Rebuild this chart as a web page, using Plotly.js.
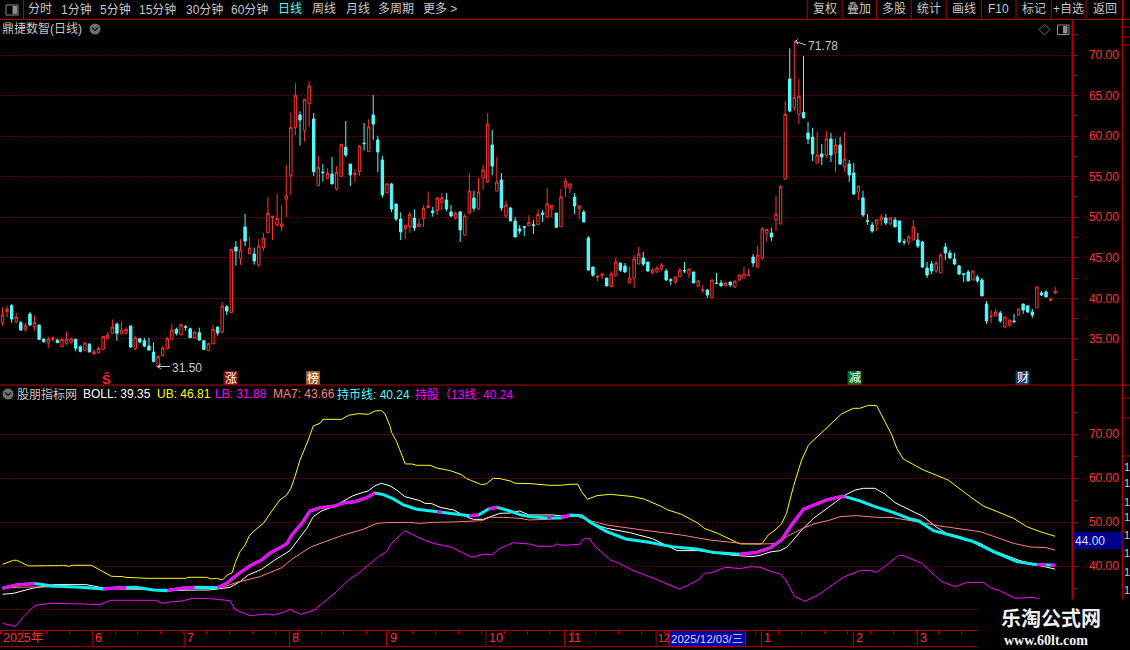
<!DOCTYPE html>
<html><head><meta charset="utf-8">
<script src="https://cdn.plot.ly/plotly-3.0.1.min.js"></script>
<style>html,body{margin:0;padding:0;background:#000;overflow:hidden}#c{width:1130px;height:650px}</style>
</head><body><div id="c"></div>
<script>
const open=[37.03,38.39,39.09,37.07,36.99,36.17,38.06,36.50,36.70,34.94,
34.53,34.94,34.85,34.03,34.44,34.53,34.94,34.03,33.58,34.36,
33.13,33.29,33.70,35.02,35.68,36.83,35.64,35.68,36.58,33.79,
35.02,34.77,34.11,33.38,31.53,32.92,33.75,34.94,36.17,35.51,
36.50,36.25,35.14,35.76,34.77,33.54,34.40,36.46,35.84,38.97,
38.23,46.32,44.89,48.79,45.46,45.46,44.10,46.24,48.09,49.94,
49.08,48.83,52.21,55.12,61.08,62.60,60.67,64.00,62.11,53.89,
55.56,54.75,55.33,53.48,55.00,58.62,56.56,55.25,55.62,59.13,
58.08,62.60,59.52,57.06,53.03,54.10,51.63,49.78,48.59,48.84,
49.90,48.84,49.82,51.18,50.77,50.81,51.79,52.12,50.64,49.90,
50.64,47.81,50.52,52.37,51.01,54.84,54.34,58.90,53.23,54.59,
50.15,51.14,49.53,48.55,48.84,48.96,49.06,49.08,50.52,50.02,
51.01,50.52,48.83,53.72,53.60,52.49,51.01,50.64,47.44,43.86,
42.59,42.83,42.50,41.43,42.87,44.35,43.98,41.89,42.50,44.23,
44.97,44.48,43.12,43.25,43.61,43.37,42.28,42.01,42.67,43.43,
42.99,43.25,41.52,41.00,41.02,40.04,41.87,41.89,41.56,42.01,
41.39,42.26,42.50,42.85,45.09,43.86,44.97,48.05,48.05,49.65,
49.16,54.71,67.04,63.50,62.69,62.93,60.39,59.89,56.69,57.80,
57.67,59.65,57.92,58.91,56.19,56.56,55.46,53.11,52.37,49.56,
49.04,49.17,49.66,49.91,49.17,49.66,49.54,46.97,46.95,47.19,
47.19,46.95,43.74,44.23,43.37,43.13,46.33,45.59,44.85,43.99,
43.02,43.25,42.26,42.63,42.26,39.30,37.76,37.82,38.19,36.47,
36.71,37.19,37.95,39.30,39.06,38.32,38.81,40.66,40.78,39.71,40.66];
const high=[38.88,39.09,39.29,38.23,37.20,36.99,38.31,37.90,36.75,35.10,
35.27,35.27,34.98,35.10,35.92,35.14,35.02,34.20,34.61,34.44,
33.70,34.03,35.35,35.84,37.40,36.99,37.12,36.42,36.62,35.39,
35.14,35.14,35.14,34.57,33.00,34.11,35.22,36.87,36.38,36.87,
36.70,36.38,35.92,36.38,34.85,34.53,36.75,36.50,39.54,39.13,
46.04,47.06,47.31,50.39,47.60,46.24,47.31,48.09,52.50,50.15,
52.90,51.50,56.44,62.93,66.51,63.06,64.60,66.80,62.85,57.55,
56.56,56.03,57.43,56.32,58.99,61.86,56.56,55.95,58.90,61.62,
62.07,65.07,60.06,57.55,54.18,54.22,51.63,50.60,49.00,50.60,
50.97,49.86,51.47,53.19,51.26,52.49,52.99,52.99,51.51,50.73,
50.77,50.48,55.45,53.23,54.84,56.44,62.85,60.75,57.43,55.45,
52.00,51.26,50.03,49.04,48.92,50.27,49.65,50.97,50.89,53.60,
51.46,50.52,53.48,54.83,54.22,52.98,51.50,50.89,47.68,43.86,
42.75,42.99,42.50,43.33,45.05,44.35,44.35,43.86,45.34,46.33,
45.71,44.48,43.70,43.98,44.35,43.61,42.50,42.63,43.74,44.48,
43.61,43.25,42.26,41.64,41.15,42.26,43.12,42.26,42.01,42.01,
42.13,42.99,43.86,43.61,45.46,46.45,48.79,48.50,48.67,52.61,
53.97,64.33,70.83,71.78,67.04,69.88,61.74,61.00,60.51,59.03,
60.63,60.39,59.77,59.89,60.51,57.06,56.69,53.85,53.24,50.40,
49.42,49.78,50.40,50.40,50.03,50.03,49.54,47.32,47.81,49.66,
48.06,47.07,44.48,44.60,44.60,45.59,46.82,45.96,45.59,44.11,
43.02,43.49,43.37,42.88,42.51,39.67,38.56,38.69,38.44,37.70,
37.33,38.07,38.69,39.30,39.18,38.69,41.40,40.91,41.03,40.12,41.40];
const low=[36.62,37.65,36.99,36.99,36.01,35.92,36.62,36.01,34.85,34.53,
33.87,34.65,34.53,33.99,34.24,34.44,33.46,33.33,33.46,33.38,
33.05,33.21,33.66,34.98,35.64,34.77,35.55,35.59,33.87,33.62,
34.44,33.95,33.54,32.14,31.50,32.88,33.70,34.90,35.43,35.47,
36.01,35.06,35.02,34.77,33.62,33.50,34.32,35.39,35.68,37.94,
38.23,44.02,44.10,46.45,45.46,44.15,43.86,45.83,48.05,47.19,
48.83,48.30,49.99,52.74,60.14,58.82,59.32,61.17,55.08,53.85,
54.38,54.71,54.10,53.27,55.00,57.43,53.85,54.38,55.12,58.21,
58.08,59.52,55.58,52.41,52.99,50.64,49.53,47.19,47.31,48.05,
48.30,48.80,48.80,51.14,50.07,50.27,50.85,50.73,50.03,49.70,
46.94,47.69,50.40,50.73,50.97,53.36,54.22,55.17,53.23,50.77,
49.90,49.53,47.56,47.93,47.69,48.92,47.93,49.04,49.41,49.98,
49.98,48.67,48.79,52.49,52.98,50.39,49.65,49.41,43.37,42.63,
42.13,42.38,41.52,41.39,42.63,43.25,43.12,41.89,41.27,44.23,
43.98,43.25,42.99,43.12,43.37,42.13,41.64,41.76,42.63,43.12,
42.50,41.89,41.39,40.65,40.04,40.04,41.76,41.52,41.52,41.39,
41.27,42.13,42.50,42.75,43.86,43.74,44.72,46.94,47.07,48.30,
49.16,54.59,62.93,63.09,61.49,62.19,59.03,56.93,56.65,56.44,
57.30,56.81,55.58,56.44,55.58,54.35,52.74,52.13,50.03,49.04,
48.06,48.30,48.92,49.04,49.04,48.80,46.82,46.58,46.58,47.19,
46.21,43.74,42.51,42.98,43.13,43.13,44.73,44.85,44.11,42.88,
42.01,42.14,42.26,41.89,40.29,36.84,36.96,37.82,36.96,36.34,
36.47,36.96,37.82,38.07,38.19,37.58,38.81,40.29,40.17,39.67,40.54];
const close=[37.94,38.64,37.44,37.65,36.09,36.62,36.70,37.03,34.94,34.65,
34.98,35.14,34.53,34.94,34.94,34.98,33.83,33.46,34.49,33.38,
33.42,33.83,35.31,35.47,36.46,35.68,36.09,36.17,33.99,35.14,
34.61,34.11,33.62,32.18,32.80,33.87,35.06,36.09,35.68,36.75,
36.42,35.14,35.84,34.85,33.70,34.40,36.17,35.72,39.05,38.43,
46.04,45.83,45.95,47.06,46.20,44.60,46.45,47.43,50.48,50.15,
49.86,49.16,52.62,61.08,65.03,61.99,64.54,66.18,55.62,56.15,
55.50,55.41,54.10,55.54,58.99,57.67,55.21,55.41,58.78,59.07,
61.13,61.49,58.04,52.74,54.10,51.01,49.78,48.18,49.00,50.36,
48.67,49.16,51.10,51.38,50.56,52.37,52.37,51.01,50.15,50.48,
48.43,50.15,53.23,51.10,53.11,55.82,61.49,56.32,54.34,51.14,
51.51,49.53,47.56,48.30,48.76,49.37,49.00,50.35,50.35,51.63,
51.46,48.75,52.49,54.46,54.09,51.38,51.38,49.41,43.49,42.87,
42.75,42.99,41.52,42.99,44.48,43.49,43.25,42.50,44.85,45.46,
44.23,43.37,43.49,43.74,44.11,42.26,42.22,42.63,43.49,43.37,
43.61,41.89,42.13,41.04,40.41,42.26,41.83,41.52,41.89,41.64,
42.13,42.87,42.99,42.89,44.35,45.34,48.55,48.50,47.56,50.39,
53.72,62.69,63.09,64.78,64.91,62.27,59.65,57.80,57.67,57.43,
59.65,57.67,58.91,56.56,57.18,55.21,52.87,53.85,50.28,49.50,
48.30,49.66,50.03,49.29,49.91,48.80,46.95,46.93,47.56,48.80,
46.45,43.87,42.88,43.37,44.36,45.34,45.59,44.97,44.23,43.00,
42.96,42.14,43.37,42.14,40.29,37.21,37.80,38.32,37.21,37.70,
37.33,37.13,38.69,38.56,38.32,37.95,41.40,40.41,40.17,39.88,40.86];

const ubIdx=[0,2.4,3.1,5.7,12.4,13.1,14.6,15.3,19.4,21.2,23.8,26.4,26.8,31.6,40.1,40.5,44.5,45.6,46.7,47.8,48.2,49.1,50.2,50.8,51.9,53,53.9,55.2,57,58.4,59.5,60.6,62.1,63,63.9,65,66.8,67.9,69.4,70,74.1,75.6,77.7,78.8,79.9,81.4,82.8,83.6,84.7,85,86.1,88,89.4,90.5,93.4,94.9,97.8,100.3,101.4,102.5,104.7,105.8,107.2,108.7,110.9,112,113,115.25,119.4,122,124,125.7,126.5,127.8,129.9,132.8,137.8,140.3,143.7,145.4,148.3,152,153.3,156.2,159.6,161.2,165.5,166,167.3,168.8,170.2,171.3,172.8,174.6,176.1,178.6,181.5,183.3,185.9,187.3,189.2,191,192.8,194.3,195.4,196.8,201.2,206.6,211.4,214.3,220.9,223.8,226.7,230];
const ubVal=[40.45,41.36,41.36,40.08,40.15,40.23,40,40.23,40.23,39.17,37.73,37.65,37.5,37.27,37.27,37.5,37.5,37.12,37.27,36.97,37.04,38.02,38.55,40.67,43.33,44.84,46.89,48.25,49.77,51.89,53.55,55.07,56.2,57.72,60.37,64.16,68.7,71.89,72.5,73.4,73.4,74.31,74.69,74.54,74.54,75.3,75.37,74.61,71.73,70.44,68.32,63.25,63.25,62.95,62.95,62.34,61.74,60.83,59.92,59.46,58.55,58.78,59.99,59.92,59.39,58.86,58.86,58.79,58.41,58.41,58.64,58.64,56.97,55.23,56.06,56.36,55.83,55.23,53.71,52.8,51.82,49.77,48.64,47.5,45.83,45.08,45.07,45.2,47.11,48.25,49.61,52.04,58.1,64.16,67.57,70.07,72.87,74.61,75.9,75.9,76.58,76.5,72.87,69.84,66.81,64.39,61.89,59.61,55.83,53.7,50.9,49,47.87,46.81];

const bollIdx=[0,2.4,6.5,11.3,18.3,22.4,29,33.4,37.9,45.2,47.5,49.7,51.9,53.7,56.6,59.5,62.8,64.6,66.5,67.9,69.7,72.3,74.5,76.6,78.8,79.9,81.4,82.8,84.7,86.1,87.9,91.2,92.3,93.8,95.6,98.5,101.8,102.9,105,107.2,108.7,110.9,113,115,120.3,122,126.5,128.2,132,137,142,147.4,152,159.6,163.75,165.5,167.7,169.9,171.3,172.8,174.6,177.2,181.2,184.1,186.3,188.1,190.6,192.8,195,197.5,201.2,204.1,206.3,209.2,213.6,216.5,222.3,226.7,230];
const bollVal=[33.64,33.86,35,35.83,35.83,35,34.77,34.62,34.55,34.62,34.92,35.22,36.51,38.02,39.31,41.43,43.55,45.98,48.63,51.28,52.57,53.55,54.92,56.05,56.81,57.11,58.33,58.86,58.25,57.34,55.83,54.92,54.31,54.23,53.4,52.8,51.05,50.67,50.67,51.51,52.04,52.11,52.57,51.67,51.67,51.44,51.44,49.92,48.64,47.65,46.29,43.56,43.56,42.5,42.2,42.49,43.25,43.55,44.31,45.98,48.25,50.9,53.93,56.2,57.34,57.72,57.72,56.43,54.46,53.17,51.28,48.86,47.49,46.73,45.22,43.55,41.28,40.14,39.35];

const lbIdx=[0,2.8,4.3,6.8,7.6,10.5,17.2,21.2,23.5,33.4,34.9,37.1,39.3,41.5,45.2,47.5,49.7,50.8,52.3,54.1,57.7,59.2,61.7,62.8,65.1,67.9,69.4,73,75.6,78.1,82.1,83.9,85,87.9,91.2,94.1,98.1,102.5,105,106.9,108.7,111.6,113,115,117,120.3,121,122.4,126.1,127,128.2,129.5,132.8,134.5,137.8,142.8,147.9,152,153.3,155,157.9,161.2,163.3,165.5,167.7,169.9,171,173.1,175.3,178.2,183.7,187.4,189.5,191,193.2,195.7,196.8,200.8,205.2,208.1,210.7,214.3,216.1,217.6,221.2,225.2,226.5];
const lbVal=[27.05,26.29,28.18,30.83,31.21,31.59,31.44,31.29,32.27,32.27,31.59,31.97,32.12,32.73,32.65,32.49,32.19,30.22,29.46,28.78,29.16,28.93,29.69,30.22,29.08,29.92,31.2,34.23,36.89,38.63,42.19,43.33,45.22,48.1,46.36,45.22,44.31,42.04,42.72,42.57,44.08,45.37,45.22,45.08,44.55,44.55,45.08,44.77,45,46.29,46.29,44.47,41.44,40.76,39.02,37.05,34.77,36.89,38.41,38.56,39.77,39.47,39.92,39.77,38.86,38.25,37.11,33.1,32.04,33.48,37.49,39.08,39.08,38.63,40.3,42.42,42.42,40.67,36.51,35.38,36.36,36.36,34.99,34.61,32.72,32.95,32.49];

const maIdx=[0,3.2,6.8,18.7,21.6,29,34.2,40.1,47.5,49,51.2,54.1,56.3,61,63.5,67.5,71.6,74.5,78.8,81.8,84,87.6,88.7,91.2,94.1,98.5,104.7,106.5,109.4,113,115,119.4,125.3,127.8,132,138.7,143.7,148.7,154.5,161.2,165.5,169.1,171.3,174.6,177.2,180.8,183,186.6,191,194.6,199.7,204.8,213.6,220.9,224.5,228.1,230];
const maVal=[35,35.23,35.3,35.3,34.92,34.77,34.7,34.92,35.37,35.52,36.36,37.04,37.64,39.69,41.81,44.46,45.98,47.11,48.4,49.77,49.92,49.92,49.99,49.77,49.99,50.07,50.37,51.13,51.13,50.9,50.53,50.68,51.44,50.53,49.39,48.41,47.65,47.05,45.98,45.23,45.07,45.14,46.73,48.48,49.61,50.52,51.28,51.51,51.13,51.05,50.14,49.16,47.87,45.22,44.39,44.23,43.66];

const holdIdx=[0,3,7,11,17,22,25,27,29,33,36,39,42,47,47.5,49,51.2,54.1,56.6,58.4,62.1,63.2,65.4,67.2,69.4,72.6,74.8,77,79.6,81.4,83.2,85.4,87.6,90.5,95,96,98.5,102,104,106.2,108,110.9,113,115,119,120,122,124,126.5,128.6,132,136.2,141.2,146.2,152,155.4,161,164.6,165.5,167.7,170.2,172.4,175,177.2,180.1,183,184.1,187.4,190.6,194.6,198.3,200.1,203.4,207,212.1,216.5,221.6,225.2,226,228,229,230];
const holdVal=[35,35.76,36.06,35.53,35.23,34.85,35.15,35.18,35.23,34.62,34.47,35,35.23,35.15,35.37,36.13,38.02,40.14,41.43,42.95,45.07,47.11,49.77,52.57,53.33,53.7,54.46,54.69,55.6,56.66,56.28,55.3,53.93,52.95,52.42,52.3,52.04,51.51,51.66,53.02,53.4,52.57,51.73,51.29,50.98,50.98,50.98,51.67,51.52,49.92,47.88,46.21,45.45,44.47,43.86,43.11,42.73,43.11,43.4,44.16,45.98,49.39,52.95,53.93,55.07,55.83,55.83,54.84,53.55,52.27,50.75,50.37,48.1,47.11,45.6,43.33,41.05,40.45,40.4,40.3,40.26,40.24];
const holdRanges=[[0,7],[22,27],[36,42],[47,81.4],[95,96],[102,104],[106.2,108],[119,120],[122,124],[161,184.1],[226,228],[229,230]];

const priceTicks=[35,40,45,50,55,60,65,70];
const priceMinor=[32.5,37.5,42.5,47.5,52.5,57.5,62.5,67.5,72.5];
const bollTicks=[30.2,40,50,60,70];
const bollLabels=['','40.00','50.00','60.00','70.00'];
const bollMinor=[35,45,55,65,75];
const monthStart=[19.6,39.7,62.7,83.9,105.6,122.8,142.8,165.8,185.9,199.9];
const monthLabels=['6','7','8','9','10','11','12','1','2','3'];
const idx=open.map((_,i)=>i);

const RED='#ff3232', AX='#b40000', CY='#54fcfc', MG='#ff00ff', GR='#c8c8c8';
const FONT='"Liberation Sans","Noto Sans CJK SC",sans-serif';
const W=1130,H=650;
const xr=[-0.546,233.78], dom=[0,1072.5/W];

const ann=[], shp=[];
function T(text,x,y,color,size,anchor,extra){ann.push(Object.assign({text:text,xref:'paper',yref:'paper',x:x/W,y:1-y/H,xanchor:anchor||'left',yanchor:'middle',showarrow:false,borderpad:0,borderwidth:0,font:{family:FONT,size:size||12,color:color}},extra||{}));}
function L(x0,y0,x1,y1,c,w){shp.push({type:'line',xref:'paper',yref:'paper',x0:x0/W,x1:x1/W,y0:1-y0/H,y1:1-y1/H,line:{color:c||AX,width:w||1},layer:'above'});}
function R(x0,y0,x1,y1,fill,line){shp.push({type:'rect',xref:'paper',yref:'paper',x0:x0/W,x1:x1/W,y0:1-y0/H,y1:1-y1/H,fillcolor:fill,line:{color:line||fill,width:1},layer:'above'});}
function C(cx,cy,r){shp.push({type:'circle',xref:'paper',yref:'paper',x0:(cx-r)/W,x1:(cx+r)/W,y0:1-(cy-r)/H,y1:1-(cy+r)/H,fillcolor:'#6e6e6e',line:{width:0},layer:'above'});
 L(cx-3,cy-1.5,cx,cy+1.5,'#1c1c1c',1.5);L(cx,cy+1.5,cx+3,cy-1.5,'#1c1c1c',1.5);}

// toolbar
L(0,19.5,1130,19.5,AX,1);L(23.5,0,23.5,19.5,AX,1);
R(6,5,18,15,'#000','#8c8c8c');R(13,6.5,16.5,13.5,'#8c8c8c','#8c8c8c');
[['分时',28],['1分钟',61],['5分钟',100],['15分钟',139],['30分钟',186],['60分钟',231],['周线',312],['月线',346],['多周期',378],['更多 >',423]].forEach(a=>T(a[0],a[1],9.5,GR,12));
T('日线',278,9.5,'#54fcfc',12);
[807.3,842,876.7,911.3,946,981.3,1016,1051.3,1086,1123.3].forEach(x=>L(x,0,x,19.5,AX,1));
[['复权',824.6],['叠加',859.3],['多股',894],['统计',928.6],['画线',963.6],['F10',998.6],['标记',1033.6],['+自选',1068.6],['返回',1104.6]].forEach(a=>T(a[0],a[1],9.5,GR,12,'center'));
// upper header
T('鼎捷数智(日线)',2,29,GR,12);C(95,29,5.5);
shp.push({type:'path',xref:'paper',yref:'paper',layer:'above',line:{color:'#6e6e6e',width:1},path:`M ${1039/W} ${1-29.5/H} L ${1044.5/W} ${1-24.5/H} L ${1050/W} ${1-29.5/H} L ${1044.5/W} ${1-35/H} Z`});
R(1057.5,25,1069,34.5,'#000','#8c8c8c');R(1063.5,26.5,1067,33,'#8c8c8c','#8c8c8c');
// extremes
T('71.78',808,45.5,GR,12);L(795,41.5,806,45,GR,1);L(795,41.5,798,39.5,GR,1);L(795,41.5,798,44,GR,1);
T('31.50',172,367.5,GR,12);L(157.5,366.5,170,366.5,GR,1);L(157.5,366.5,161,364,GR,1);L(157.5,366.5,161,369,GR,1);
// signal badges
T('Ŝ',106,379,'#ff2020',12,'center',{font:{family:FONT,size:13,color:'#ff2020',weight:700}});
[[230.5,'涨','#8b0f0f'],[313,'榜','#9a5a1e'],[854.5,'减','#0b6b1e'],[1022.5,'财','#1c3c6e']].forEach(a=>{R(a[0]-6.5,371.5,a[0]+6.5,384.5,a[2]);T(a[1],a[0],378,'#ffffff',12,'center');});
// lower legend
C(8,394,5.5);
T('股朋指标网',17,394,GR,12);T('BOLL: 39.35',83,394,'#ffffff',12);T('UB: 46.81',157,394,'#ffff00',12);T('LB: 31.88',215,394,MG,12);T('MA7: 43.66',273,394,'#ff8080',12);T('持币线: 40.24',337,394,'#54fcfc',12);T('持股（13线: 40.24',415,394,MG,12);
// right column
L(1072.5,19.5,1072.5,600,AX,2);L(1122.5,0,1122.5,600,AX,1);
L(1072,385,1130,385,AX,1);
[27,37,45,398,418,456].forEach(y=>L(1122.5,y,1130,y,AX,1));
[467,483,502,517,535,553,572,590].forEach(y=>T('1',1123.5,y,GR,11));
R(1074,532.5,1122,548.5,'#00008c');T('44.00',1075,540.5,'#dcdcff',12);
// time strip
L(0,385,1072,385,AX,1);L(0,646.7,978,646.7,AX,1);
T('2025年',3,638,RED,12.5);
monthStart.forEach((m,i)=>{const small=monthLabels[i]==='12';shp.push({type:'line',xref:'x2',yref:'paper',x0:m,x1:m,y0:1-630/H,y1:1-646.7/H,line:{color:AX,width:1},layer:'above'});
 ann.push({text:monthLabels[i],xref:'x2',yref:'paper',x:m,y:1-638/H,xanchor:'left',yanchor:'middle',xshift:small?1:2,showarrow:false,borderpad:0,font:{family:FONT,size:small?10.5:12.5,color:RED}});});
R(668.5,630.7,745.5,646.5,'#0000a8',AX);T('2025/12/03/三',671,638.5,'#dcdcff',11.5);
// watermark block
R(978,600,1130,650,'#000');
T('乐淘公式网',1050.5,617.5,'#ffffff',20.5,'center',{font:{family:'"Noto Sans CJK SC",sans-serif',size:20,color:'#f2f2f2',weight:700}});
T('www.60lt.com',1046,640.5,'#ffffff',14,'center',{font:{family:'"Liberation Serif",serif',size:14,color:'#f2f2f2',weight:700}});

function line(x,y,c,w,name){return {type:'scatter',mode:'lines',x:x,y:y,xaxis:'x2',yaxis:'y2',line:{color:c,width:w,shape:'linear'},name:name,hoverinfo:'skip'};}
const overlayX=[],overlayY=[];
holdRanges.forEach(r=>{holdIdx.forEach((v,k)=>{if(v>=r[0]&&v<=r[1]){overlayX.push(v);overlayY.push(holdVal[k]);}});overlayX.push(null);overlayY.push(null);});

const data=[
 {type:'candlestick',x:idx,open:open,high:high,low:low,close:close,xaxis:'x',yaxis:'y',whiskerwidth:0,
  increasing:{line:{color:RED,width:1},fillcolor:'#000000'},decreasing:{line:{color:CY,width:1},fillcolor:CY},hoverinfo:'skip'},
 line(bollIdx,bollVal,'#ffffff',1,'BOLL'),
 line(ubIdx,ubVal,'#ffff00',1,'UB'),
 line(lbIdx,lbVal,MG,1,'LB'),
 line(maIdx,maVal,'#ff8080',1,'MA7'),
 line(holdIdx,holdVal,'#00f0f0',3,'持币线'),
 line(overlayX,overlayY,MG,3,'持股')
];
const yBase={side:'right',showline:false,zeroline:false,showgrid:true,griddash:'1px,3px',gridcolor:'#8a0000',gridwidth:1,
 ticks:'outside',ticklen:4,tickcolor:AX,tickwidth:1,tickfont:{family:FONT,size:12,color:RED},ticklabelstandoff:9,fixedrange:true};
const layout={width:W,height:H,margin:{l:0,r:0,t:0,b:0,pad:0},paper_bgcolor:'#000',plot_bgcolor:'#000',showlegend:false,hovermode:false,boxgap:0.25,
 xaxis:{domain:dom,range:xr,anchor:'y',visible:false,fixedrange:true,rangeslider:{visible:false},type:'linear'},
 yaxis:Object.assign({},yBase,{domain:[(H-385)/H,(H-19.5)/H],range:[29.31,74.38],anchor:'x',tickmode:'array',tickvals:priceTicks,ticktext:priceTicks.map(v=>v.toFixed(2)),
   minor:{tickmode:'array',tickvals:priceMinor,ticks:'outside',ticklen:3,tickcolor:AX,showgrid:false}}),
 xaxis2:{domain:dom,range:xr,anchor:'y2',type:'linear',showticklabels:false,ticks:'outside',ticklen:3,tickcolor:AX,tick0:4.6,dtick:5,showline:true,linecolor:AX,linewidth:1,showgrid:false,zeroline:false,fixedrange:true},
 yaxis2:Object.assign({},yBase,{domain:[20/H,(H-385)/H],range:[25.52,81.2],anchor:'x2',tickmode:'array',tickvals:bollTicks,ticktext:bollLabels,
   minor:{tickmode:'array',tickvals:bollMinor,ticks:'outside',ticklen:3,tickcolor:AX,showgrid:false}}),
 annotations:ann,shapes:shp};
Plotly.newPlot('c',data,layout,{staticPlot:true,displayModeBar:false});
</script></body></html>
